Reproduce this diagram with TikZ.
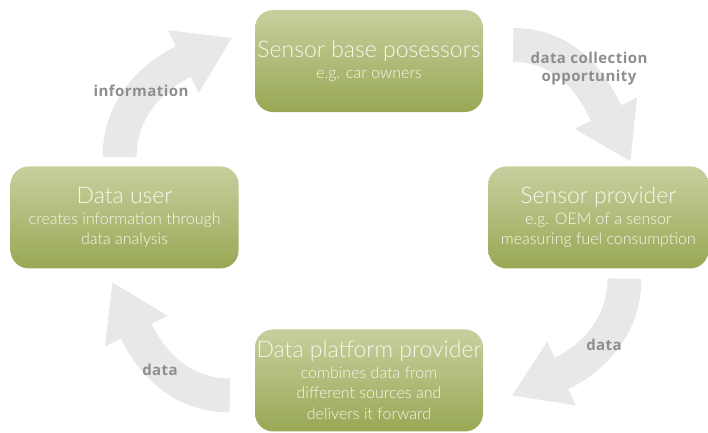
\documentclass[tikz,border=0pt]{standalone}
\usepackage{fontspec}
\setmainfont{Carlito}
\newfontfamily\boxfont{Lato Light}
\newfontfamily\tagfont{Open Sans}[LetterSpace=3]
\usetikzlibrary{arrows.meta,positioning}
\definecolor{boxtop}{HTML}{C6D09E}
\definecolor{boxbot}{HTML}{98A855}
\definecolor{boxtext}{HTML}{F6F8EE}
\definecolor{flowgray}{HTML}{E8E8E8}
\definecolor{taggray}{HTML}{8E8E8E}
\tikzstyle{block} = [rectangle, rounded corners=18pt, top color=boxtop, bottom color=boxbot,
    text=boxtext, align=center, minimum width=228pt, minimum height=102pt, inner sep=0pt,
    font=\boxfont\fontsize{16}{20.5}\selectfont]
\tikzstyle{flow} = [line width=34pt, draw=flowgray,
    -{Triangle[width=70pt,length=54pt,line width=0pt]}]
\tikzstyle{tag} = [text=taggray, align=center, font=\tagfont\bfseries\fontsize{15}{18}\selectfont]
\newcommand{\head}[1]{{\fontsize{23}{23}\selectfont #1}}

\begin{document}
\begin{tikzpicture}[x=1pt,y=1pt]
  \useasboundingbox (0,0) rectangle (708,432);

  \node[block]                   (owner)    at (369,371)                  {\head{Sensor base posessors}\\ e.g. car owners};
  \node[block,minimum width=220pt] (sensor) [below right=54pt and 5pt of owner] {\head{Sensor provider}\\ e.g. OEM of a sensor\\ measuring fuel consumption};
  \node[block]                   (platform) [below=217pt of owner]        {\head{Data platform provider}\\ combines data from\\ different sources and\\ delivers it forward};
  \node[block]                   (user)     [below left=54pt and 16pt of owner] {\head{Data user}\\ creates information through\\ data analysis};

  % free ends of the big arrows
  \coordinate (infoA) at ([xshift=-5pt,yshift=9pt]user.north);
  \coordinate (infoB) at ([xshift=-23pt,yshift=23pt]owner.west);
  \coordinate (collA) at ([xshift=30pt,yshift=16pt]owner.east);
  \coordinate (collB) at ([xshift=32pt,yshift=5pt]sensor.north);
  \coordinate (dataA) at ([xshift=26pt,yshift=-10pt]sensor.south);
  \coordinate (dataB) at ([xshift=29pt,yshift=-15pt]platform.east);
  \coordinate (useA)  at ([xshift=-25pt,yshift=-15pt]platform.west);
  \coordinate (useB)  at ([xshift=-12pt,yshift=-14pt]user.south);

  \path (infoA) edge[flow,out=90,in=206]  (infoB)
        (collA) edge[flow,out=0,in=117]   (collB)
        (dataA) edge[flow,out=-90,in=24]  (dataB)
        (useA)  edge[flow,out=180,in=-64] (useB);

  \node[tag] (infotag) at (141,341) {information};
  \node[tag] (colltag) at (589,363) {data collection\\ opportunity};
  \node[tag] (datatag) at (604,87)  {data};
  \node[tag] (usetag)  at (160,62)  {data};
\end{tikzpicture}
\end{document}
